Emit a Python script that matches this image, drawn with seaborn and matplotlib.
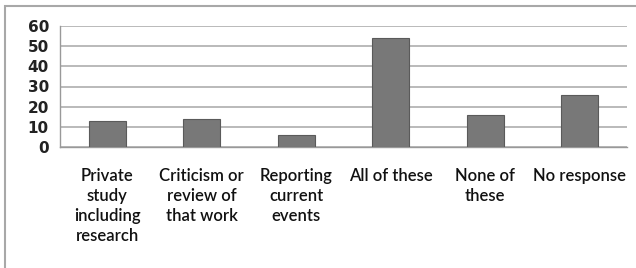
import matplotlib
matplotlib.use("Agg")
import matplotlib.pyplot as plt
import matplotlib.patches as patches
import seaborn as sns
import numpy as np

# data
categories = ["Private\nstudy\nincluding\nresearch", "Criticism or\nreview of\nthat work",
              "Reporting\ncurrent\nevents", "All of these", "None of\nthese", "No response"]
values = [13, 14, 6, 54, 16, 26]
yticks = [0, 10, 20, 30, 40, 50, 60]

sns.set_style("white")
plt.rcParams['font.family'] = ['Lato', 'DejaVu Sans']

fig = plt.figure(figsize=(6.36, 2.68), dpi=100)
ax = fig.add_axes([60/636, (268-147)/268, (627-60)/636, (147-26)/268])

sns.barplot(x=categories, y=values, color="#787878", edgecolor="#5a5a5a",
            linewidth=0.8, width=0.39, saturation=1, ax=ax, zorder=3)

ax.set_ylim(0, 60)
ax.set_xlim(-0.5, len(categories) - 0.5)
ax.set_yticks(yticks)
ax.set_yticklabels([str(t) for t in yticks], fontsize=11, fontweight="bold",
                   family="DejaVu Sans", color="#222222")
ax.yaxis.grid(True, color="#b4b4b4", linewidth=1.3, zorder=0)
ax.set_axisbelow(True)

# category labels at centers, tick marks at boundaries
ax.set_xticks(np.arange(len(categories)))
ax.set_xticklabels(categories, fontsize=12, linespacing=1.3, color="#111111",
                   fontweight="semibold")
ax.tick_params(axis="x", which="major", length=0, pad=15)
ax.set_xticks(np.arange(len(categories) + 1) - 0.5, minor=True)
ax.tick_params(axis="x", which="minor", length=5, color="#999999", width=1)
ax.tick_params(axis="y", length=5, color="#999999", width=1, pad=3)

for s in ["top", "right"]:
    ax.spines[s].set_visible(False)
for s in ["left", "bottom"]:
    ax.spines[s].set_color("#999999")
    ax.spines[s].set_linewidth(1)
ax.set_xlabel("")
ax.set_ylabel("")

# outer chart border
fig.patches.append(patches.Rectangle((5/636, -0.1), 1.1, (268-6)/268 + 0.1,
                                     transform=fig.transFigure, fill=False,
                                     edgecolor="#a8a8a8", linewidth=1.5))

fig.savefig("out.png", dpi=100)
